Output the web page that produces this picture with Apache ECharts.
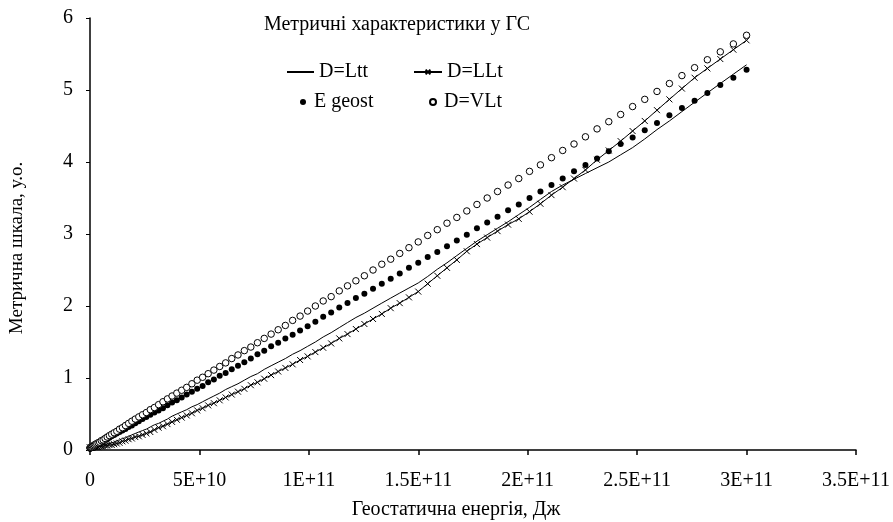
<!DOCTYPE html>
<html>
<head>
<meta charset="utf-8">
<script src="https://cdn.jsdelivr.net/npm/echarts@6/dist/echarts.min.js"></script>
<style>
html,body{margin:0;padding:0;background:#fff;}
#chart{width:893px;height:522px;}
</style>
</head>
<body>
<div id="chart"></div>
<script>
// Geostatic energy, in units of 1E9 J
const energyE9 = [0,0.03,0.12,0.28,0.49,0.77,1.10,1.50,1.96,2.48,3.06,3.70,4.41,5.17,6.00,6.89,7.84,8.85,9.92,11.05,
12.24,13.50,14.82,16.19,17.63,19.13,20.69,22.31,24.00,25.74,27.55,29.42,31.34,33.33,35.38,37.50,39.67,41.90,44.19,46.56,
48.97,51.45,53.99,56.60,59.26,61.98,64.77,67.62,70.52,73.49,76.52,79.61,82.76,85.98,89.26,92.59,95.99,99.45,102.97,106.55,
110.19,113.90,117.66,121.49,125.37,129.32,133.33,137.40,141.53,145.73,149.98,154.30,158.68,163.12,167.61,172.17,176.80,181.48,186.22,191.03,
195.90,200.83,205.81,210.86,215.98,221.15,226.38,231.68,237.04,242.46,247.93,253.47,259.07,264.74,270.46,276.25,282.09,288.00,293.97,300.00];

const dLtt = [0.03,0.03,0.03,0.03,0.03,0.04,0.04,0.04,0.04,0.05,0.05,0.06,0.06,0.07,0.07,0.08,0.08,0.09,0.10,0.11,
0.13,0.14,0.16,0.17,0.19,0.21,0.23,0.25,0.27,0.29,0.32,0.35,0.37,0.40,0.43,0.47,0.50,0.53,0.56,0.60,
0.63,0.67,0.71,0.75,0.79,0.84,0.88,0.92,0.97,1.02,1.06,1.12,1.17,1.22,1.27,1.33,1.38,1.44,1.50,1.57,
1.63,1.70,1.77,1.84,1.90,1.97,2.04,2.11,2.18,2.25,2.32,2.41,2.51,2.60,2.70,2.80,2.90,2.99,3.08,3.17,
3.27,3.37,3.48,3.59,3.68,3.76,3.84,3.92,4.00,4.10,4.20,4.32,4.45,4.57,4.70,4.83,4.96,5.09,5.22,5.35];

const dLLt = [0.03,0.03,0.03,0.03,0.03,0.03,0.03,0.04,0.04,0.04,0.04,0.04,0.05,0.05,0.05,0.06,0.06,0.07,0.07,0.08,
0.09,0.10,0.12,0.13,0.15,0.16,0.18,0.19,0.21,0.23,0.25,0.28,0.31,0.33,0.36,0.39,0.42,0.45,0.48,0.51,
0.55,0.58,0.62,0.65,0.69,0.73,0.77,0.81,0.85,0.90,0.94,0.99,1.04,1.09,1.14,1.19,1.25,1.30,1.36,1.42,
1.48,1.55,1.61,1.68,1.75,1.82,1.89,1.97,2.04,2.12,2.20,2.31,2.42,2.53,2.64,2.76,2.86,2.95,3.04,3.13,
3.21,3.31,3.42,3.54,3.65,3.77,3.89,4.03,4.16,4.29,4.43,4.57,4.72,4.87,5.02,5.17,5.30,5.43,5.56,5.69];

const eGeost = [0.02,0.02,0.02,0.02,0.03,0.03,0.04,0.05,0.05,0.06,0.07,0.08,0.09,0.11,0.12,0.14,0.15,0.17,0.19,0.21,
0.23,0.25,0.27,0.29,0.32,0.34,0.37,0.40,0.43,0.46,0.49,0.52,0.55,0.58,0.62,0.66,0.69,0.73,0.77,0.81,
0.85,0.89,0.94,0.98,1.03,1.07,1.12,1.17,1.22,1.27,1.33,1.38,1.44,1.49,1.55,1.60,1.66,1.72,1.78,1.85,
1.91,1.98,2.04,2.11,2.17,2.24,2.31,2.38,2.45,2.53,2.60,2.68,2.75,2.83,2.91,2.99,3.08,3.16,3.24,3.33,
3.41,3.50,3.59,3.68,3.77,3.87,3.96,4.05,4.15,4.25,4.34,4.44,4.54,4.65,4.75,4.85,4.96,5.07,5.17,5.28];

const dVLt = [0.03,0.03,0.03,0.04,0.04,0.04,0.05,0.06,0.07,0.08,0.09,0.10,0.11,0.13,0.14,0.16,0.18,0.20,0.22,0.24,
0.26,0.29,0.31,0.34,0.37,0.40,0.43,0.46,0.49,0.52,0.56,0.59,0.63,0.67,0.71,0.75,0.79,0.83,0.87,0.92,
0.97,1.01,1.06,1.11,1.16,1.21,1.27,1.32,1.38,1.43,1.49,1.55,1.61,1.67,1.73,1.80,1.86,1.93,2.00,2.07,
2.13,2.21,2.28,2.35,2.42,2.50,2.58,2.65,2.73,2.81,2.89,2.98,3.06,3.15,3.23,3.32,3.41,3.50,3.59,3.68,
3.77,3.87,3.96,4.06,4.16,4.25,4.35,4.46,4.56,4.66,4.77,4.87,4.98,5.09,5.20,5.31,5.42,5.53,5.64,5.76];

const xTickLabels = ['0','5E+10','1E+11','1.5E+11','2E+11','2.5E+11','3E+11','3.5E+11'];
const yTickLabels = ['0','1','2','3','4','5','6'];
const seriesNames = ['D=Ltt','D=LLt','E geost','D=VLt'];
const titleText = 'Метричні характеристики у ГС';
const xAxisName = 'Геостатична енергія, Дж';
const yAxisName = 'Метрична шкала, у.о.';

const toData = ys => energyE9.map((x, i) => [x * 1e9, ys[i]]);
const FONT = 'Liberation Serif';
const chart = echarts.init(document.getElementById('chart'), null, {renderer: 'canvas'});

const legendBase = (name, left, top, w, h, extra) => Object.assign({
  data: [name], left: left, top: top, itemWidth: w, itemHeight: h, orient: 'horizontal',
  textStyle: {fontFamily: FONT, fontSize: 20, color: '#000'}, padding: 0, selectedMode: false
}, extra || {});

chart.setOption({
  animation: false,
  backgroundColor: '#fff',
  grid: {left: 90, right: 37, top: 18, bottom: 72, containLabel: false},
  graphic: [
    {type: 'text', x: 397, y: 25, style: {text: titleText, font: '20px "Liberation Serif"', fill: '#000', align: 'center', verticalAlign: 'middle'}},
    {type: 'text', x: 456, y: 510, style: {text: xAxisName, font: '20px "Liberation Serif"', fill: '#000', align: 'center', verticalAlign: 'middle'}},
    {type: 'text', x: 17, y: 248, rotation: Math.PI / 2, style: {text: yAxisName, font: '19px "Liberation Serif"', fill: '#000', align: 'center', verticalAlign: 'middle'}}
  ],
  legend: [
    legendBase(seriesNames[0], 286, 62, 27, 8, {itemStyle: {opacity: 0}}),
    legendBase(seriesNames[1], 413, 62, 28, 6),
    legendBase(seriesNames[2], 300, 92, 12, 6),
    legendBase(seriesNames[3], 429, 92, 12, 6)
  ],
  xAxis: {
    type: 'value', min: 0, max: 3.5e11, interval: 5e10,
    axisLine: {lineStyle: {color: '#000', width: 1.5}},
    axisTick: {show: true, inside: false, length: 5, lineStyle: {color: '#000', width: 1.5}},
    splitLine: {show: false},
    axisLabel: {margin: 21, fontFamily: FONT, fontSize: 20, color: '#000',
      formatter: v => xTickLabels[Math.round(v / 5e10)]}
  },
  yAxis: {
    type: 'value', min: 0, max: 6, interval: 1,
    axisLine: {show: true, lineStyle: {color: '#000', width: 1.5}},
    axisTick: {show: true, inside: false, length: 4, lineStyle: {color: '#000', width: 1}},
    splitLine: {show: false},
    axisLabel: {margin: 17, fontFamily: FONT, fontSize: 20, color: '#000',
      formatter: v => yTickLabels[Math.round(v)]}
  },
  series: [
    {name: seriesNames[0], type: 'line', data: toData(dLtt), showSymbol: false, symbol: 'none',
      lineStyle: {color: '#000', width: 1}, itemStyle: {color: '#000'}, z: 2},
    {name: seriesNames[1], type: 'line', data: toData(dLLt), symbol: 'path://M0,0L10,10M10,0L0,10', symbolSize: 6,
      showAllSymbol: true, lineStyle: {color: '#000', width: 1},
      itemStyle: {color: '#000', borderColor: '#000', borderWidth: 1}, z: 3},
    {name: seriesNames[2], type: 'scatter', data: toData(eGeost), symbol: 'circle', symbolSize: 6,
      itemStyle: {color: '#000', opacity: 1}, z: 4},
    {name: seriesNames[3], type: 'scatter', data: toData(dVLt), symbol: 'circle', symbolSize: 6.5,
      itemStyle: {color: '#fff', borderColor: '#000', borderWidth: 1, opacity: 1}, z: 5}
  ]
});
</script>
</body>
</html>
